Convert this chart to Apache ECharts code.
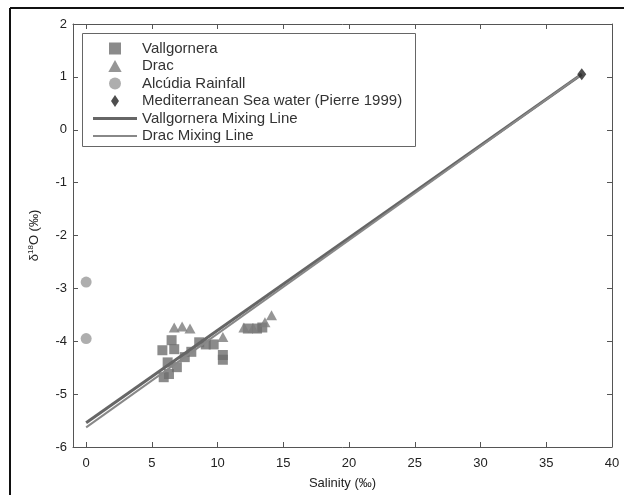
<!DOCTYPE html>
<html>
<head>
<meta charset="utf-8">
<script src="https://cdn.jsdelivr.net/npm/echarts@6/dist/echarts.min.js"></script>
<style>
  html, body { margin: 0; padding: 0; background: #ffffff; }
  #chart { width: 624px; height: 495px; }
</style>
</head>
<body>
<div id="chart"></div>
<script>
// Salinity (‰) vs δ18O (‰) samples
const vallgornera = [
  [6.5, -3.98], [5.8, -4.17], [6.7, -4.15], [6.2, -4.40], [6.9, -4.49],
  [6.3, -4.62], [5.9, -4.68], [7.5, -4.30], [8.0, -4.20], [8.6, -4.02],
  [9.1, -4.06], [9.7, -4.06], [10.4, -4.26], [10.4, -4.35], [12.3, -3.76],
  [13.0, -3.76], [13.4, -3.74]
];
const drac = [
  [6.7, -3.74], [7.3, -3.72], [7.9, -3.76], [10.4, -3.92],
  [12.0, -3.74], [12.7, -3.75], [13.6, -3.64], [14.1, -3.51]
];
const alcudiaRain = [[0, -2.88], [0, -3.95]];
const seaWater = [[37.7, 1.05]];
const vallgorneraMix = [[0, -5.54], [37.7, 1.05]];
const dracMix = [[0, -5.63], [37.7, 1.05]];

const xTicks = [0, 5, 10, 15, 20, 25, 30, 35, 40];
const yTicks = [-6, -5, -4, -3, -2, -1, 0, 1, 2];

const FONT = '"Liberation Sans", Arial, Helvetica, sans-serif';
const AXIS_COLOR = '#555';

// legend glyphs (kept to aspect inside the 44 px legend slot)
const SQUARE = 'path://M0,0L10,0L10,10L0,10Z';
const TRIANGLE = 'path://M5,0L10,9L0,9Z';
const CIRCLE = 'path://M0,5A5,5 0 1,1 10,5A5,5 0 1,1 0,5Z';
const DIAMOND = 'path://M4,0L8,6L4,12L0,6Z';
const THICK_BAR = 'path://M0,0L44,0L44,3L0,3Z';
const THIN_BAR = 'path://M0,0L44,0L44,2L0,2Z';

const chart = echarts.init(document.getElementById('chart'), null, { renderer: 'canvas' });

const baseX = {
  type: 'value', min: -1, max: 40,
  axisLine: { show: true, onZero: false, lineStyle: { color: AXIS_COLOR, width: 1 } },
  axisTick: { show: true, inside: true, length: 5, customValues: xTicks, lineStyle: { color: AXIS_COLOR } },
  splitLine: { show: false }
};
const baseY = {
  type: 'value', min: yTicks[0], max: yTicks[yTicks.length - 1], interval: 1,
  axisLine: { show: true, onZero: false, lineStyle: { color: AXIS_COLOR, width: 1 } },
  axisTick: { show: true, inside: true, length: 5, lineStyle: { color: AXIS_COLOR } },
  splitLine: { show: false }
};

chart.setOption({
  backgroundColor: '#ffffff',
  animation: false,
  grid: { left: 73, right: 12, top: 24, bottom: 44 },
  xAxis: [
    Object.assign({}, baseX, {
      position: 'bottom',
      axisLabel: { customValues: xTicks, margin: 10, color: '#222', fontSize: 13, fontFamily: FONT },
      name: 'Salinity (‰)', nameLocation: 'middle', nameGap: 30,
      nameTextStyle: { color: '#222', fontSize: 13, fontFamily: FONT }
    }),
    Object.assign({}, baseX, { position: 'top', axisLabel: { show: false } })
  ],
  yAxis: [
    Object.assign({}, baseY, {
      position: 'left',
      axisLabel: { margin: 6, color: '#222', fontSize: 13, fontFamily: FONT },
      name: '{t|δ}{s|18}{t|O (‰)}', nameLocation: 'middle', nameGap: 32,
      nameTextStyle: {
        rich: {
          t: { fontSize: 13, color: '#222', fontFamily: FONT },
          s: { fontSize: 8, color: '#222', fontFamily: FONT, verticalAlign: 'top', padding: [0, 0, 6, 0] }
        }
      }
    }),
    Object.assign({}, baseY, { position: 'right', axisLabel: { show: false } })
  ],
  legend: {
    orient: 'vertical',
    left: 93, top: 41,
    padding: 0,
    itemWidth: 44, itemHeight: 12, itemGap: 2.5,
    textStyle: { color: '#333', fontSize: 15, fontFamily: FONT },
    data: [
      { name: 'Vallgornera', icon: SQUARE },
      { name: 'Drac', icon: TRIANGLE },
      { name: 'Alcúdia Rainfall', icon: CIRCLE },
      { name: 'Mediterranean Sea water (Pierre 1999)', icon: DIAMOND },
      { name: 'Vallgornera Mixing Line', icon: THICK_BAR },
      { name: 'Drac Mixing Line', icon: THIN_BAR }
    ]
  },
  graphic: [
    // legend frame
    { type: 'rect', left: 82, top: 33, z: -1,
      shape: { width: 333, height: 113 },
      style: { fill: '#ffffff', stroke: '#666', lineWidth: 1 } },
    // figure frame
    { type: 'line', shape: { x1: 10, y1: 8, x2: 624, y2: 8 }, style: { stroke: '#111', lineWidth: 2 } },
    { type: 'line', shape: { x1: 10, y1: 8, x2: 10, y2: 495 }, style: { stroke: '#111', lineWidth: 2 } }
  ],
  series: [
    { name: 'Vallgornera', type: 'scatter', data: vallgornera, symbol: 'rect', symbolSize: 10,
      itemStyle: { color: '#6e6e6e' }, z: 2 },
    { name: 'Drac', type: 'scatter', data: drac, symbol: 'triangle', symbolSize: [11, 10],
      itemStyle: { color: '#7c7c7c' }, z: 2 },
    { name: 'Alcúdia Rainfall', type: 'scatter', data: alcudiaRain, symbol: 'circle', symbolSize: 11,
      itemStyle: { color: '#9a9a9a' }, z: 2 },
    { name: 'Mediterranean Sea water (Pierre 1999)', type: 'scatter', data: seaWater, symbol: 'diamond',
      symbolSize: [9, 12], itemStyle: { color: '#222' }, z: 4 },
    { name: 'Vallgornera Mixing Line', type: 'line', data: vallgorneraMix, symbol: 'none',
      lineStyle: { color: '#666', width: 3 }, itemStyle: { color: '#666' }, z: 3 },
    { name: 'Drac Mixing Line', type: 'line', data: dracMix, symbol: 'none',
      lineStyle: { color: '#888', width: 2 }, itemStyle: { color: '#888' }, z: 3 }
  ]
});
</script>
</body>
</html>
